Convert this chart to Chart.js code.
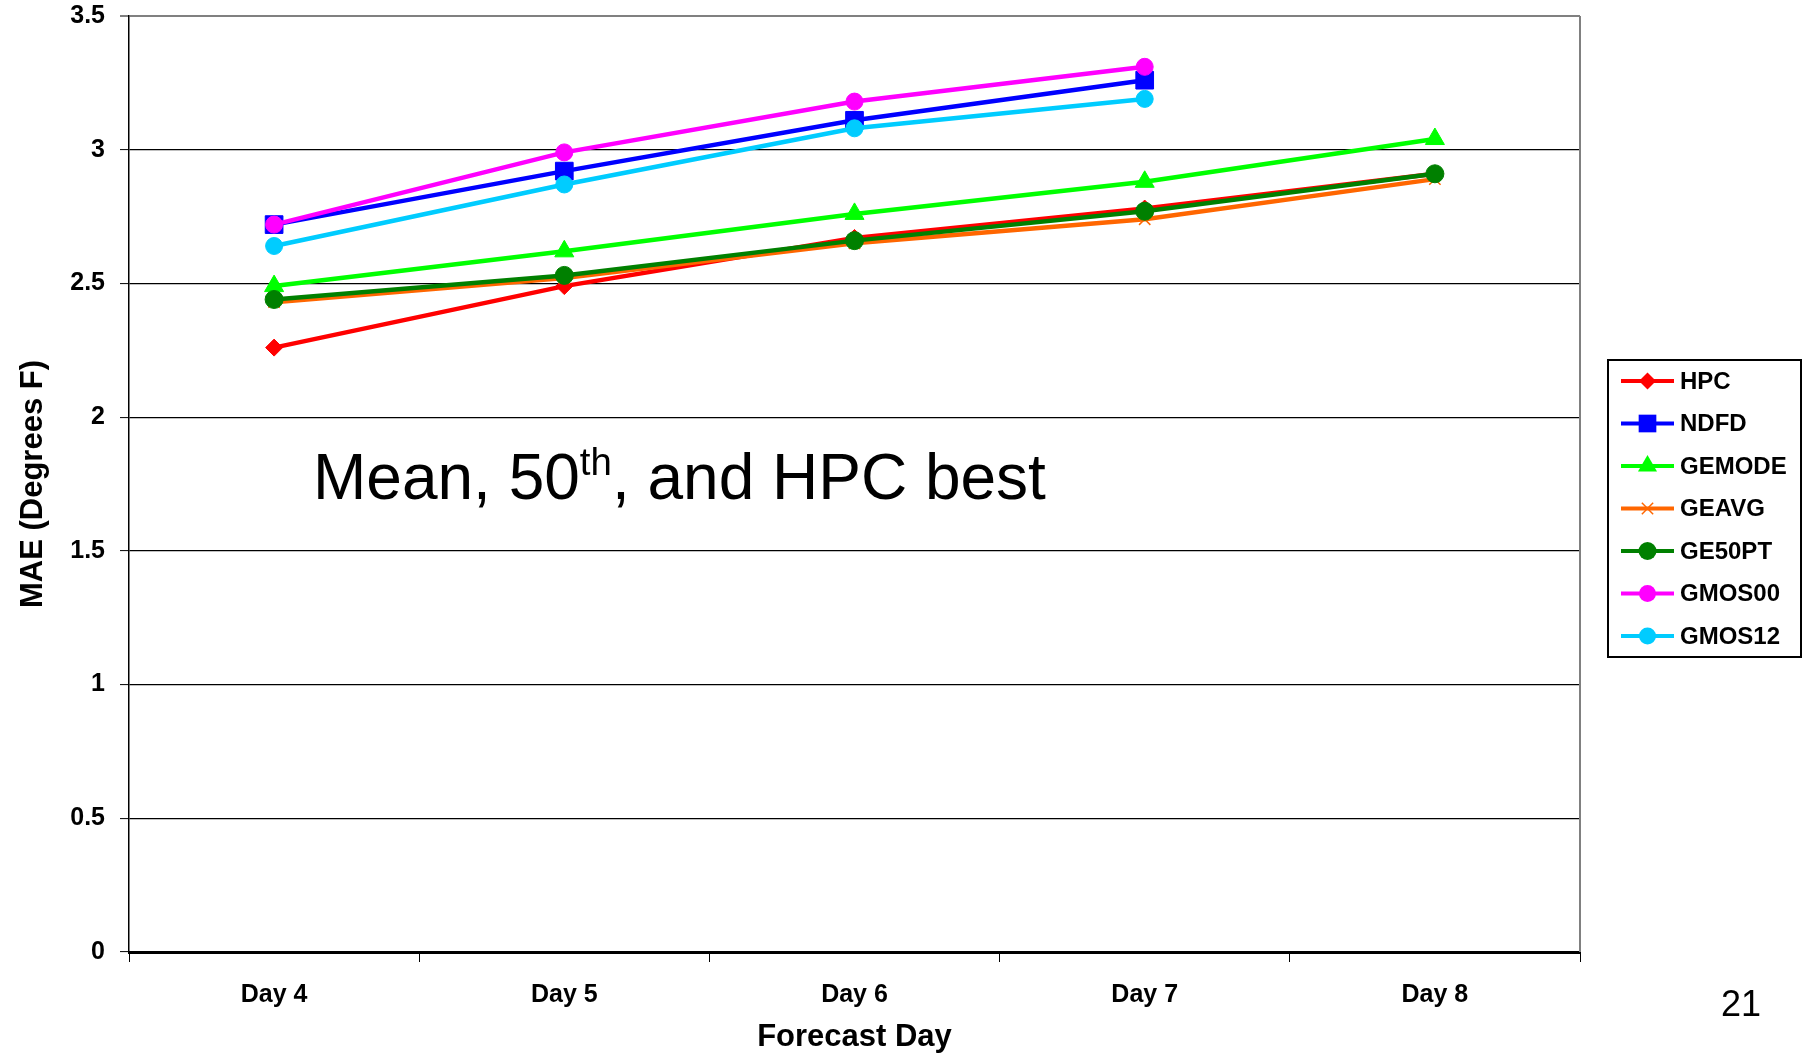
<!DOCTYPE html>
<html>
<head>
<meta charset="utf-8">
<script src="https://cdn.jsdelivr.net/npm/chart.js@4.4.1/dist/chart.umd.min.js"></script>
<style>
  html, body { margin: 0; padding: 0; background: #fff; }
  #wrap { position: relative; width: 1806px; height: 1056px; overflow: hidden; }
  canvas { position: absolute; left: 0; top: 0; }
  .note { position: absolute; font-family: "Liberation Sans", Arial, sans-serif; color: #000; line-height: 1; white-space: nowrap; }
  #annot { left: 313px; top: 445px; font-size: 64px; }
  #annot sup { font-size: 0.6em; vertical-align: 0.62em; line-height: 0; }
  #pagenum { left: 1721px; top: 986px; font-size: 36px; }
</style>
</head>
<body>
<div id="wrap">
  <canvas id="c" width="1806" height="1056"></canvas>
  <div id="annot" class="note">Mean, 50<sup>th</sup>, and HPC best</div>
  <div id="pagenum" class="note">21</div>
</div>
<script>
const categories = ["Day 4", "Day 5", "Day 6", "Day 7", "Day 8"];
const yTickLabels = ["0", "0.5", "1", "1.5", "2", "2.5", "3", "3.5"];
const seriesNames = ["HPC", "NDFD", "GEMODE", "GEAVG", "GE50PT", "GMOS00", "GMOS12"];
const hpc    = [2.26, 2.49, 2.67, 2.78, 2.91];
const ndfd   = [2.72, 2.92, 3.11, 3.26, null];
const gemode = [2.49, 2.62, 2.76, 2.88, 3.04];
const geavg  = [2.43, 2.52, 2.65, 2.74, 2.89];
const ge50pt = [2.44, 2.53, 2.66, 2.77, 2.91];
const gmos00 = [2.72, 2.99, 3.18, 3.31, null];
const gmos12 = [2.64, 2.87, 3.08, 3.19, null];

const seriesData = [hpc, ndfd, gemode, geavg, ge50pt, gmos00, gmos12];
const colors = ["#FF0000", "#0000FF", "#00FF00", "#FF6600", "#008000", "#FF00FF", "#00CCFF"];
const styles = ["rectRot", "rect", "triangle", "crossRot", "circle", "circle", "circle"];
const radii = [8.5, 12.5, 11, 8, 9, 8.5, 8.5];

const FONT = '"Liberation Sans", Arial, sans-serif';

const datasets = seriesNames.map((name, i) => ({
  label: name,
  data: seriesData[i],
  borderColor: colors[i],
  backgroundColor: colors[i],
  pointBackgroundColor: colors[i],
  pointBorderColor: colors[i],
  pointStyle: styles[i],
  pointRadius: radii[i],
  pointHoverRadius: radii[i],
  pointBorderWidth: styles[i] === "crossRot" ? 1.5 : 1,
  borderWidth: 4.5,
  tension: 0,
  fill: false,
  order: seriesNames.length - i
}));

function drawMarker(ctx, style, x, y, r, color) {
  ctx.save();
  ctx.fillStyle = color;
  ctx.strokeStyle = color;
  ctx.lineWidth = 1;
  ctx.beginPath();
  if (style === "circle") {
    ctx.arc(x, y, r, 0, Math.PI * 2);
    ctx.fill();
  } else if (style === "rect") {
    const s = r * Math.SQRT1_2;
    ctx.rect(x - s, y - s, 2 * s, 2 * s);
    ctx.fill();
  } else if (style === "rectRot") {
    ctx.moveTo(x, y - r); ctx.lineTo(x + r, y); ctx.lineTo(x, y + r); ctx.lineTo(x - r, y); ctx.closePath();
    ctx.fill();
  } else if (style === "triangle") {
    ctx.moveTo(x, y - r);
    ctx.lineTo(x + Math.cos(Math.PI / 6) * r, y + Math.sin(Math.PI / 6) * r);
    ctx.lineTo(x - Math.cos(Math.PI / 6) * r, y + Math.sin(Math.PI / 6) * r);
    ctx.closePath();
    ctx.fill();
  } else if (style === "crossRot") {
    ctx.lineWidth = 1.5;
    const d = r * Math.SQRT1_2;
    ctx.moveTo(x - d, y - d); ctx.lineTo(x + d, y + d);
    ctx.moveTo(x - d, y + d); ctx.lineTo(x + d, y - d);
    ctx.stroke();
  }
  ctx.restore();
}

const framePlugin = {
  id: "frame",
  beforeDatasetsDraw(chart) {
    const { ctx, chartArea } = chart;
    ctx.save();
    ctx.strokeStyle = "#808080";
    ctx.lineWidth = 2;
    ctx.beginPath();
    ctx.moveTo(chartArea.right, chartArea.top);
    ctx.lineTo(chartArea.right, chartArea.bottom);
    ctx.stroke();
    ctx.restore();
  }
};

const legendPlugin = {
  id: "customLegend",
  afterDraw(chart) {
    const ctx = chart.ctx;
    const bx = 1608, by = 360, bw = 193, bh = 297;
    ctx.save();
    ctx.fillStyle = "#fff";
    ctx.fillRect(bx, by, bw, bh);
    ctx.strokeStyle = "#000";
    ctx.lineWidth = 2;
    ctx.strokeRect(bx, by, bw, bh);
    chart.data.datasets.forEach((ds, i) => {
      const cy = 381 + i * 42.5;
      ctx.strokeStyle = ds.borderColor;
      ctx.lineWidth = 4;
      ctx.beginPath();
      ctx.moveTo(1621, cy);
      ctx.lineTo(1674, cy);
      ctx.stroke();
      drawMarker(ctx, ds.pointStyle, 1647.5, cy, ds.pointRadius, ds.borderColor);
      ctx.fillStyle = "#000";
      ctx.font = "bold 24px " + FONT;
      ctx.textBaseline = "middle";
      ctx.textAlign = "left";
      ctx.fillText(ds.label, 1680, cy + 1);
    });
    ctx.restore();
  }
};

new Chart(document.getElementById("c"), {
  type: "line",
  data: { labels: categories, datasets: datasets },
  plugins: [framePlugin, legendPlugin],
  options: {
    responsive: false,
    devicePixelRatio: 1,
    animation: false,
    events: [],
    layout: { padding: { left: 0, top: 16, right: 226, bottom: 0 } },
    plugins: { legend: { display: false }, tooltip: { enabled: false } },
    scales: {
      x: {
        type: "category",
        offset: true,
        afterFit(scale) { scale.height = 104; },
        grid: {
          offset: true,
          drawOnChartArea: false,
          drawTicks: true,
          tickLength: 10,
          tickColor: "#000",
          tickWidth: 1
        },
        border: { display: true, color: "#000", width: 3 },
        ticks: {
          color: "#000",
          font: { family: FONT, size: 25, weight: "bold" },
          padding: 18,
          maxRotation: 0
        },
        title: {
          display: true,
          text: "Forecast Day",
          color: "#000",
          font: { family: FONT, size: 31, weight: "bold" },
          padding: { top: 0, bottom: 0 }
        }
      },
      y: {
        min: 0,
        max: 3.5,
        afterFit(scale) { scale.width = 129; scale.paddingTop = 0; scale.paddingBottom = 0; },
        grid: {
          color: (c) => (c.tick && c.tick.value === 3.5 ? "#808080" : "#000"),
          lineWidth: (c) => (c.tick && c.tick.value === 3.5 ? 2 : 1.2),
          drawTicks: true,
          tickLength: 9,
          tickColor: "#000",
          tickWidth: 1
        },
        border: { display: true, color: "#000", width: 1.5 },
        ticks: {
          stepSize: 0.5,
          color: "#000",
          padding: 15,
          font: { family: FONT, size: 25, weight: "bold" },
          callback: (v, idx) => yTickLabels[Math.round(v * 2)] ?? String(v)
        },
        title: {
          display: true,
          text: "MAE (Degrees F)",
          color: "#000",
          font: { family: FONT, size: 31, weight: "bold" },
          padding: { top: 15, bottom: 0 }
        }
      }
    }
  }
});
</script>
</body>
</html>
